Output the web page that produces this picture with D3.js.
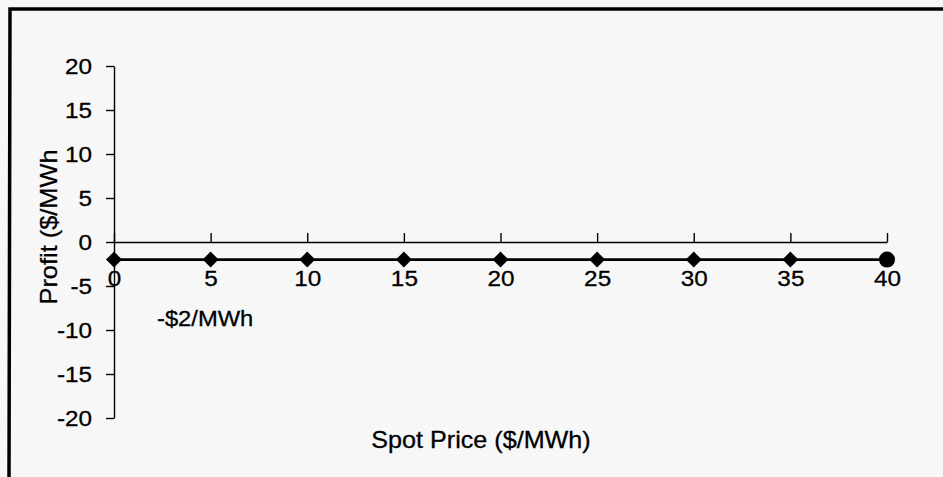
<!DOCTYPE html>
<html>
<head>
<meta charset="utf-8">
<script src="https://cdn.jsdelivr.net/npm/d3@7"></script>
<style>
  html, body { margin: 0; padding: 0; background: #f7f7f7; }
  svg { display: block; }
  text { font-family: "Liberation Sans", Arial, Helvetica, sans-serif; fill: #000; }
</style>
</head>
<body>
<svg id="chart" width="943" height="477"></svg>
<script>
// ---- data ----
const spotPrice = [0, 5, 10, 15, 20, 25, 30, 35, 40];
const profit = [-2, -2, -2, -2, -2, -2, -2, -2, -2];
const markerShape = ["diamond", "diamond", "diamond", "diamond", "diamond", "diamond", "diamond", "diamond", "circle"];
const xTickValues = [0, 5, 10, 15, 20, 25, 30, 35, 40];
const yTickValues = [-20, -15, -10, -5, 0, 5, 10, 15, 20];
const xTitle = "Spot Price ($/MWh)";
const yTitle = "Profit ($/MWh";
const annotation = "-$2/MWh";

const svg = d3.select("#chart");
const W = 943, H = 477;

svg.append("rect").attr("width", W).attr("height", H).attr("fill", "#f7f7f7");

// frame (extends past right/bottom edge)
svg.append("path")
  .attr("d", `M9,${H + 5} L10,9 L${W + 5},9`)
  .attr("fill", "none").attr("stroke", "#000").attr("stroke-width", 3.5);

const x = d3.scaleLinear().domain([0, 40]).range([114, 887]);
const y = d3.scaleLinear().domain([-20, 20]).range([418, 66]);

// horizontal glyph stretch via transform (keeps anchor point fixed)
function stretch(sel, k) {
  sel.each(function () {
    const t = d3.select(this);
    const tx = +t.attr("x") || 0, ty = +t.attr("y") || 0;
    const prev = t.attr("transform") || "";
    t.attr("x", 0).attr("y", 0)
     .attr("transform", `${prev} translate(${tx},${ty}) scale(${k},1)`);
  });
}

// y axis
const yAxis = svg.append("g")
  .attr("transform", `translate(${x(0)},0)`)
  .call(d3.axisLeft(y).tickValues(yTickValues).tickSizeInner(8).tickSizeOuter(0).tickPadding(14).tickFormat(d3.format("d")));
yAxis.select(".domain").attr("stroke", "#000").attr("stroke-width", 1.4);
yAxis.selectAll(".tick line").attr("stroke", "#000").attr("stroke-width", 1.4);
yAxis.selectAll(".tick text").attr("font-size", 22.5).attr("font-family", "Liberation Sans, Arial, sans-serif")
  .attr("fill", "#000").attr("stroke", "#000").attr("stroke-width", 0.3)
  .text(d => d < 0 ? "-" + Math.abs(d) : d);
stretch(yAxis.selectAll(".tick text"), 1.08);

// x axis along y = 0
const xAxis = svg.append("g")
  .attr("transform", `translate(0,${y(0)})`)
  .call(d3.axisBottom(x).tickValues(xTickValues).tickSizeInner(-9).tickSizeOuter(0).tickPadding(28).tickFormat(d3.format("d")));
xAxis.select(".domain").attr("stroke", "#000").attr("stroke-width", 1.4);
xAxis.selectAll(".tick line").attr("stroke", "#000").attr("stroke-width", 1.4);
xAxis.selectAll(".tick text").attr("font-size", 22.5).attr("font-family", "Liberation Sans, Arial, sans-serif")
  .attr("fill", "#000").attr("stroke", "#000").attr("stroke-width", 0.3);
stretch(xAxis.selectAll(".tick text"), 1.08);

// series line
const pts = spotPrice.map((s, i) => ({ s, p: profit[i], shape: markerShape[i] }));
svg.append("path")
  .datum(pts)
  .attr("fill", "none").attr("stroke", "#000").attr("stroke-width", 2.6)
  .attr("d", d3.line().x(d => x(d.s)).y(d => y(d.p)));

// markers
svg.selectAll(".marker")
  .data(pts)
  .join("path")
  .attr("class", "marker")
  .attr("transform", d => `translate(${x(d.s)},${y(d.p)})`)
  .attr("fill", "#000")
  .attr("d", d => d.shape === "circle"
    ? d3.symbol().type(d3.symbolCircle).size(Math.PI * 8 * 8)()
    : "M0,-8L8,0L0,8L-8,0Z");

// axis titles
const xt = svg.append("text")
  .attr("x", 481).attr("y", 448).attr("text-anchor", "middle").attr("font-size", 23.5)
  .attr("stroke", "#000").attr("stroke-width", 0.3)
  .text(xTitle);
stretch(xt, 1.07);

const yt = svg.append("text")
  .attr("transform", "translate(57,227) rotate(-90)")
  .attr("text-anchor", "middle").attr("font-size", 23.5)
  .attr("stroke", "#000").attr("stroke-width", 0.3)
  .text(yTitle);
stretch(yt, 1.08);

// annotation
const an = svg.append("text")
  .attr("x", 157).attr("y", 326).attr("font-size", 22)
  .attr("stroke", "#000").attr("stroke-width", 0.3)
  .text(annotation);
stretch(an, 1.08);
</script>
</body>
</html>
